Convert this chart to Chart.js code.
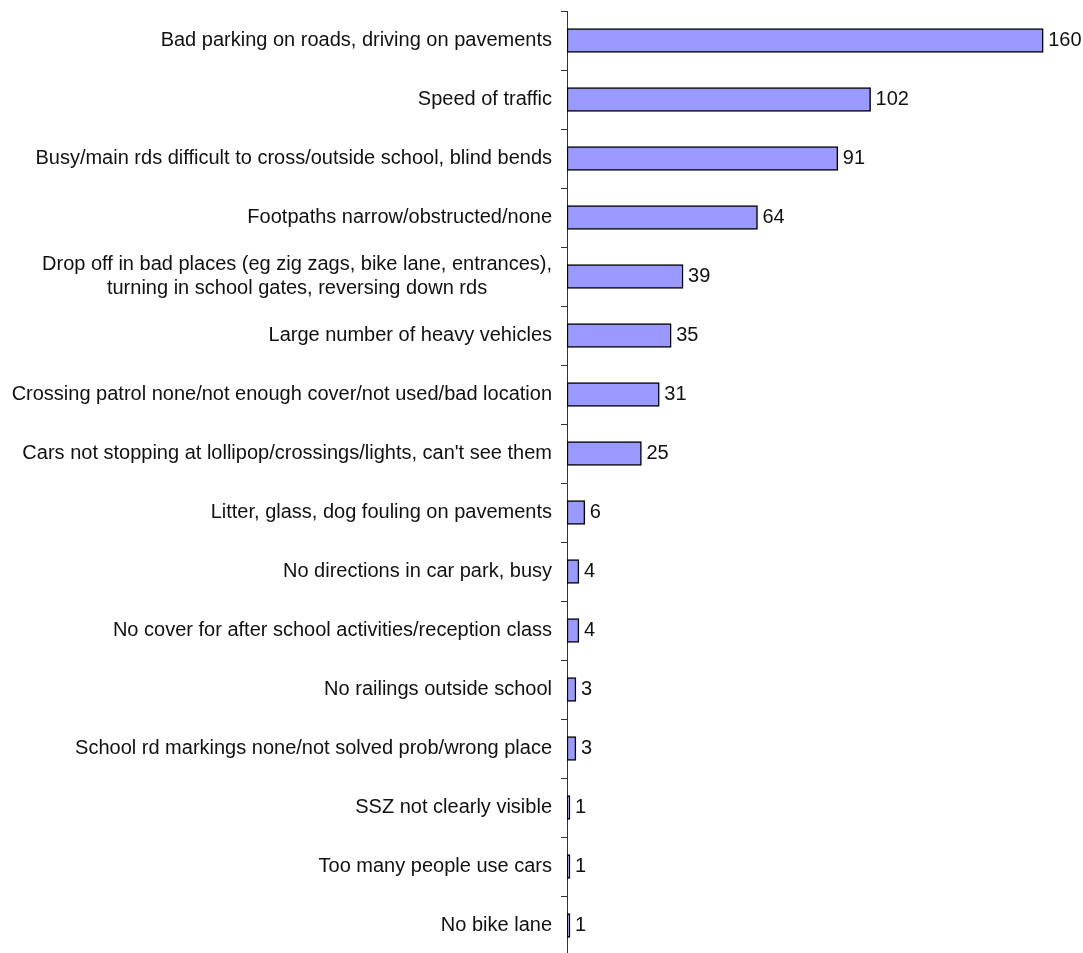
<!DOCTYPE html>
<html lang="en">
<head>
  <meta charset="UTF-8" />
  <title>Road safety concerns near school</title>
  <script src="https://cdn.jsdelivr.net/npm/chart.js"></script>
  <style>
    html, body {
      margin: 0;
      padding: 0;
      background: #fff;
      overflow: hidden;
    }
    .chart-box {
      position: relative;
      width: 1083px;
      height: 957px;
    }
  </style>
</head>
<body>

  <div class="chart-box">
    <canvas id="concernChart"></canvas>
  </div>

  <script>
    // Concerns raised, with number of mentions
    const concerns = [
      'Bad parking on roads, driving on pavements',
      'Speed of traffic',
      'Busy/main rds difficult to cross/outside school, blind bends',
      'Footpaths narrow/obstructed/none',
      ['Drop off in bad places (eg zig zags, bike lane, entrances),', 'turning in school gates, reversing down rds'],
      'Large number of heavy vehicles',
      'Crossing patrol none/not enough cover/not used/bad location',
      "Cars not stopping at lollipop/crossings/lights, can't see them",
      'Litter, glass, dog fouling on pavements',
      'No directions in car park, busy',
      'No cover for after school activities/reception class',
      'No railings outside school',
      'School rd markings none/not solved prob/wrong place',
      'SSZ not clearly visible',
      'Too many people use cars',
      'No bike lane'
    ];
    const mentions = [160, 102, 91, 64, 39, 35, 31, 25, 6, 4, 4, 3, 3, 1, 1, 1];

    const FONT = '20px "Liberation Sans", Arial, sans-serif';

    // Category labels: each block right-aligned to the axis, lines centred within it
    const categoryLabels = {
      id: 'categoryLabels',
      afterDraw(chart) {
        const ctx = chart.ctx;
        const y = chart.scales.y;
        const right = y.right - 15;
        const lineH = 24;
        ctx.save();
        ctx.font = FONT;
        ctx.fillStyle = '#111';
        ctx.textAlign = 'center';
        ctx.textBaseline = 'middle';
        concerns.forEach((lab, i) => {
          const lines = Array.isArray(lab) ? lab : [lab];
          const w = Math.max(...lines.map(l => ctx.measureText(l).width));
          const cy = y.getPixelForTick(i);
          const top = cy - (lines.length - 1) * lineH / 2;
          lines.forEach((l, j) => ctx.fillText(l, right - w / 2, top + j * lineH));
        });
        ctx.restore();
      }
    };

    // Value printed just past the end of each bar
    const valueLabels = {
      id: 'valueLabels',
      afterDatasetsDraw(chart) {
        const ctx = chart.ctx;
        const meta = chart.getDatasetMeta(0);
        ctx.save();
        ctx.font = FONT;
        ctx.fillStyle = '#111';
        ctx.textAlign = 'left';
        ctx.textBaseline = 'middle';
        meta.data.forEach((bar, i) => {
          ctx.fillText(String(mentions[i]), bar.x + 5, bar.y);
        });
        ctx.restore();
      }
    };

    new Chart(document.getElementById('concernChart'), {
      type: 'bar',
      data: {
        labels: concerns,
        datasets: [{
          data: mentions,
          backgroundColor: '#9999ff',
          borderColor: '#000',
          borderWidth: 1.5,
          borderSkipped: false,
          barThickness: 24
        }]
      },
      options: {
        indexAxis: 'y',
        responsive: true,
        maintainAspectRatio: false,
        animation: false,
        layout: {
          padding: { top: 11, right: 10, bottom: 2, left: 0 }
        },
        scales: {
          x: {
            display: false,
            min: 0,
            max: 170
          },
          y: {
            offset: true,
            afterFit(scale) { scale.width = 567; },
            ticks: { display: false },
            grid: {
              offset: true,
              drawOnChartArea: false,
              drawTicks: true,
              tickLength: 6,
              color: '#333'
            },
            border: { display: true, color: '#333', width: 1 }
          }
        },
        plugins: {
          legend: { display: false },
          tooltip: { enabled: false }
        }
      },
      plugins: [categoryLabels, valueLabels]
    });
  </script>

</body>
</html>
